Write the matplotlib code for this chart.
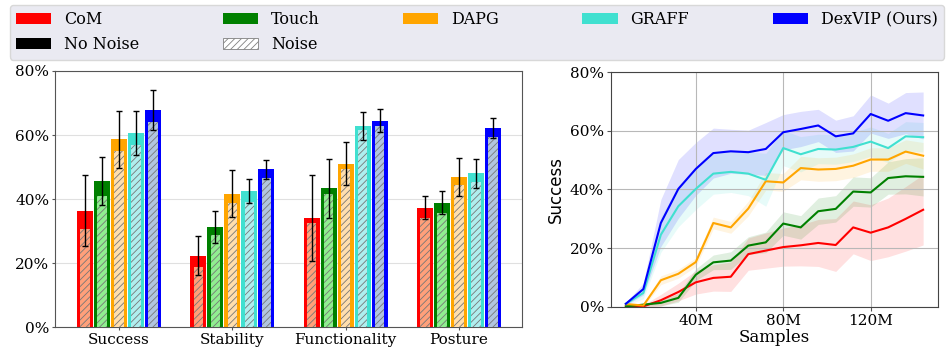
import numpy as np
import matplotlib
matplotlib.use("Agg")
import matplotlib.pyplot as plt
from matplotlib.patches import Patch

# bar chart data (percent)
metrics = ["Success", "Stability", "Functionality", "Posture"]
methods = ["CoM", "Touch", "DAPG", "GRAFF", "DexVIP (Ours)"]
colors = ["red", "green", "orange", "turquoise", "blue"]
light_colors = ["lightsalmon", "lightgreen", "navajowhite", "paleturquoise", "lightsteelblue"]

no_noise = {
    "CoM": [36.4, 22.3, 34.1, 37.3],
    "Touch": [45.6, 31.4, 43.3, 38.9],
    "DAPG": [58.6, 41.7, 51.0, 46.8],
    "GRAFF": [60.6, 42.5, 62.8, 48.0],
    "DexVIP (Ours)": [67.8, 49.3, 64.5, 62.3],
}
noise = {
    "CoM": [30.6, 18.6, 32.5, 34.2],
    "Touch": [41.0, 28.8, 41.7, 35.5],
    "DAPG": [55.0, 38.9, 49.5, 44.3],
    "GRAFF": [56.8, 39.1, 61.5, 45.4],
    "DexVIP (Ours)": [64.1, 46.7, 62.8, 59.5],
}
errors = {
    "CoM": [11.1, 6.1, 13.4, 3.5],
    "Touch": [7.6, 5.0, 9.1, 3.7],
    "DAPG": [8.8, 7.3, 6.7, 6.0],
    "GRAFF": [7.0, 3.6, 4.3, 4.5],
    "DexVIP (Ours)": [6.2, 3.0, 3.5, 3.1],
}

# learning curves (percent), samples in millions
samples = [8, 16, 24, 32, 40, 48, 56, 64, 72, 80, 88, 96, 104, 112, 120, 128, 136, 144]
curve_mean = {
    "CoM": [0.2, 0.2, 2.3, 5.1, 8.4, 9.9, 10.3, 18.0, 19.2, 20.4, 21.0, 21.8, 21.1, 27.1, 25.3, 27.1, 30.0, 33.1],
    "Touch": [0.2, 0.8, 1.4, 3.1, 11.0, 15.2, 15.8, 20.9, 22.0, 28.4, 27.1, 32.6, 33.4, 39.3, 39.0, 43.9, 44.5, 44.3],
    "DAPG": [1.0, 0.5, 9.1, 11.3, 15.3, 28.6, 27.1, 33.5, 42.8, 42.4, 47.3, 46.8, 47.0, 48.1, 50.2, 50.2, 52.9, 51.5],
    "GRAFF": [1.1, 4.8, 24.6, 34.3, 40.2, 45.4, 46.0, 45.4, 43.3, 54.1, 52.0, 53.8, 53.6, 54.5, 56.3, 54.1, 58.1, 57.8],
    "DexVIP (Ours)": [1.1, 6.1, 28.6, 40.2, 47.0, 52.4, 53.0, 52.7, 53.8, 59.5, 60.6, 61.8, 58.1, 59.1, 65.7, 63.4, 66.0, 65.2],
}
curve_std = {
    "CoM": [0.2, 0.5, 2, 3, 4, 4.5, 5, 5.5, 6, 6.5, 7, 8, 9, 9, 9.5, 10, 11, 12],
    "Touch": [0.2, 0.5, 1, 1.5, 2, 2.5, 3, 3, 3.5, 4, 4, 4.5, 4.5, 5, 5, 5.5, 6, 6.5],
    "DAPG": [0.5, 0.5, 1.5, 1.5, 1.5, 2, 2, 2.5, 3, 3, 4, 4, 4, 4, 4, 4, 4, 4.5],
    "GRAFF": [0.5, 2, 6, 7, 7, 7, 7, 7.5, 9, 6, 6, 5, 5, 5, 5, 5, 5, 5],
    "DexVIP (Ours)": [0.5, 2, 8, 10, 9, 8.5, 7.5, 7.5, 9, 6, 6, 5.5, 5.5, 6, 6.5, 6, 7, 8],
}

plt.rcParams["font.family"] = "DejaVu Serif"
plt.rcParams["hatch.linewidth"] = 0.6

fig = plt.figure(figsize=(9.47, 3.47), dpi=100)

# ---- bar chart ----
ax1 = fig.add_axes([0.0581, 0.0576, 0.4931, 0.7378])
x = np.arange(len(metrics))
w = 0.15
for i, m in enumerate(methods):
    pos = x + (i - 2) * w
    ax1.bar(pos, no_noise[m], width=w * 0.95, color=colors[i], zorder=2)
    ax1.bar(pos, noise[m], width=w * 0.55, color=light_colors[i],
            edgecolor="#777777", linewidth=0, hatch="/////", zorder=3)
    ax1.errorbar(pos, no_noise[m], yerr=errors[m], fmt="none", ecolor="black",
                 elinewidth=1, capsize=2.2, capthick=1, zorder=4)
ax1.set_xticks(x)
ax1.set_xticklabels(metrics, fontsize=11)
ax1.set_xlim(-0.565, 3.556)
ax1.set_ylim(0, 80)
ax1.set_yticks([0, 20, 40, 60, 80])
ax1.set_yticklabels(["0%", "20%", "40%", "60%", "80%"], fontsize=11)
ax1.yaxis.grid(True, color="#e0e0e0", linewidth=0.8, zorder=0)
ax1.set_axisbelow(True)
ax1.tick_params(axis="both", length=2, color="#555555", pad=2)
for s in ax1.spines.values():
    s.set_color("#555555")

# ---- learning curves ----
ax2 = fig.add_axes([0.6452, 0.1153, 0.3453, 0.6772])
for i, m in enumerate(methods):
    mean = np.array(curve_mean[m])
    std = np.array(curve_std[m])
    ax2.fill_between(samples, np.clip(mean - std, 0, None), mean + std,
                     color=colors[i], alpha=0.12, linewidth=0)
    ax2.plot(samples, mean, color=colors[i], linewidth=1.5)
ax2.set_ylim(0, 80)
ax2.set_xticks([40, 80, 120])
ax2.set_xticklabels(["40M", "80M", "120M"], fontsize=11)
ax2.set_yticks([0, 20, 40, 60, 80])
ax2.set_yticklabels(["0%", "20%", "40%", "60%", "80%"], fontsize=11)
ax2.set_xlabel("Samples", fontsize=12, labelpad=1)
ax2.set_ylabel("Success", fontsize=12, family="DejaVu Sans")
ax2.grid(True, color="#b8b8b8", linewidth=0.8)
ax2.tick_params(axis="both", length=3, color="#555555", pad=2)
for s in ax2.spines.values():
    s.set_color("#444444")

# ---- legend ----
handles = [
    Patch(facecolor="red"), Patch(facecolor="black"),
    Patch(facecolor="green"), Patch(facecolor="white", edgecolor="gray", hatch="/////", linewidth=0.6),
    Patch(facecolor="orange"), Patch(facecolor="turquoise"), Patch(facecolor="blue"),
]
labels = ["CoM", "No Noise", "Touch", "Noise", "DAPG", "GRAFF", "DexVIP (Ours)"]
fig.legend(handles, labels, ncol=5, loc="upper left", mode="expand",
           bbox_to_anchor=(0.007, 0.995, 0.993, 0.0), fontsize=11.5,
           facecolor="#eaeaf2", edgecolor="#d8d8d8", framealpha=1,
           handlelength=2.2, handleheight=0.7, labelspacing=0.5,
           borderpad=0.4, borderaxespad=0.2, handletextpad=0.8)

fig.savefig("out.png", dpi=100)
